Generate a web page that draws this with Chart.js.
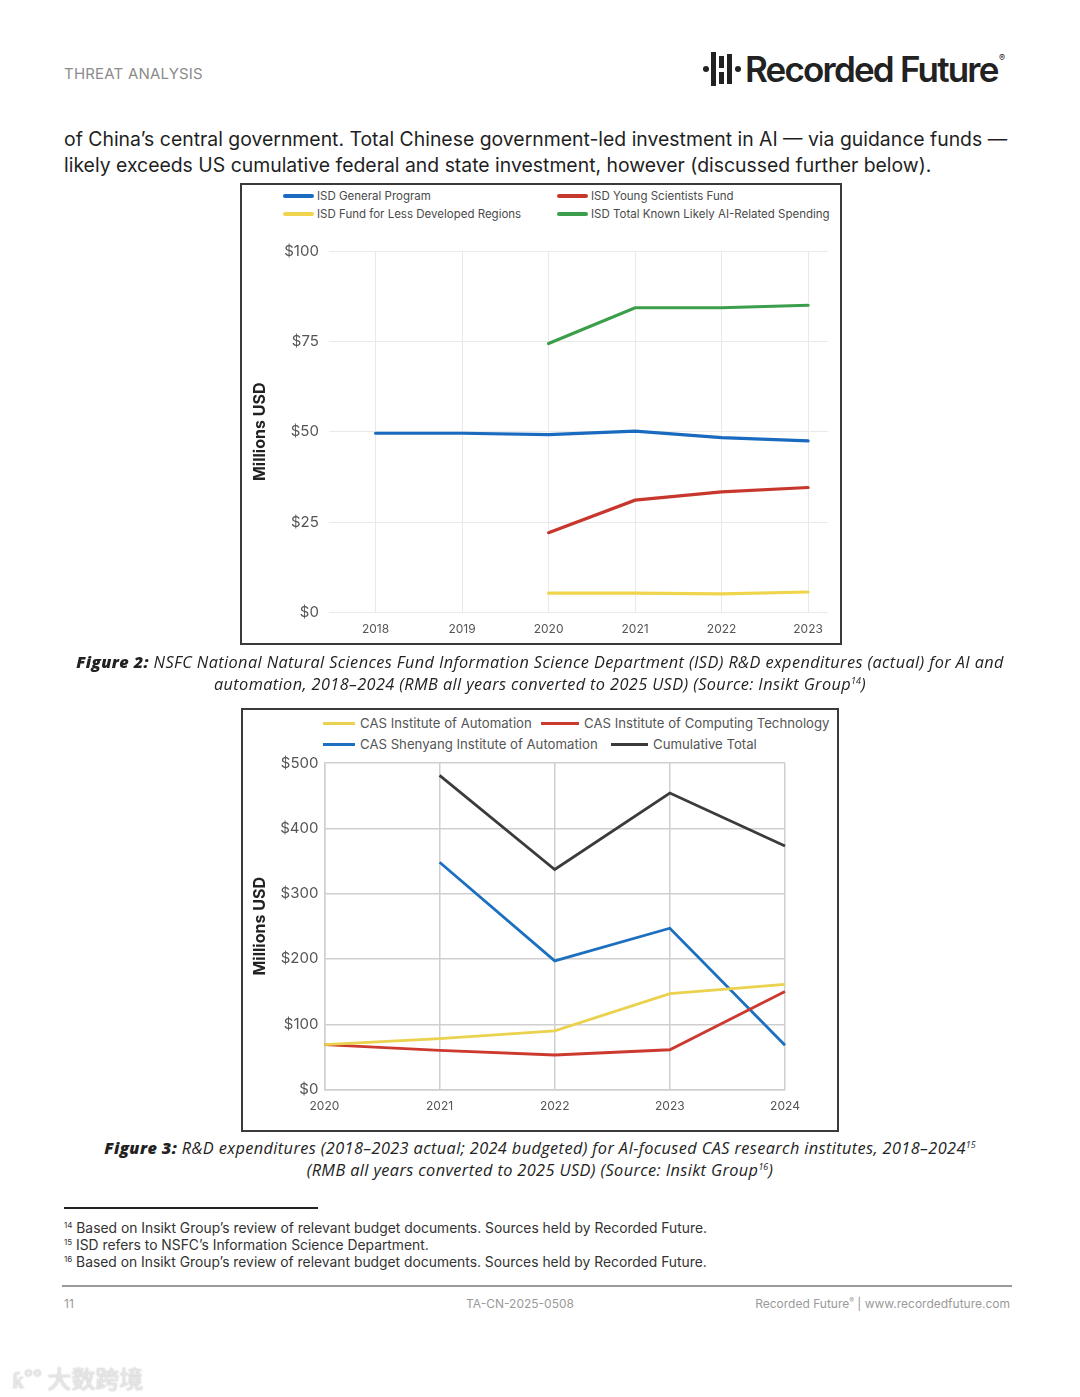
<!DOCTYPE html>
<html>
<head>
<meta charset="utf-8">
<script src="https://cdn.jsdelivr.net/npm/chart.js@4.4.1/dist/chart.umd.min.js"></script>
<style>
body { margin: 0; background: #fff; }
#page { position: relative; width: 1080px; height: 1397px; overflow: hidden; font-family: Inter, "Noto Sans", sans-serif; color: #1f1f1f; }
.abs { position: absolute; }
.box { position: absolute; border: 2px solid #3a3a3a; box-sizing: border-box; }
.leg { position: absolute; font-size: 11.5px; color: #4a4a4a; white-space: nowrap; line-height: 14px; }
.leg i { position: absolute; left: -34px; top: 5px; width: 31px; height: 4px; border-radius: 2px; }
.leg2 { position: absolute; font-size: 13.2px; color: #555; white-space: nowrap; line-height: 16px; }
.leg2 i { position: absolute; top: 7px; height: 3px; }
.cap { position: absolute; left: 40px; width: 1000px; text-align: center; font-family: "Open Sans", sans-serif; font-style: italic; font-size: 16.3px; letter-spacing: 0.4px; line-height: 22px; color: #222; white-space: nowrap; }
.cap b { font-weight: 800; }
.cap sup { font-size: 9px; line-height: 0; vertical-align: 6px; letter-spacing: 0; }
.fn { position: absolute; left: 64px; font-size: 13.85px; color: #333; line-height: 17px; }
.fn sup { font-size: 8px; line-height: 0; vertical-align: 5px; }
</style>
</head>
<body>
<div id="page">
  <div class="abs" style="left:64px;top:64px;font-size:15px;color:#8c8c8c;letter-spacing:0.2px;">THREAT ANALYSIS</div>

  <div class="abs" style="left:703px;top:66px;width:6px;height:6px;border-radius:3px;background:#222;"></div>
  <div class="abs" style="left:711px;top:52px;width:5px;height:34px;background:#222;"></div>
  <div class="abs" style="left:719px;top:56px;width:5px;height:12px;background:#222;"></div>
  <div class="abs" style="left:719px;top:72px;width:5px;height:12px;background:#222;"></div>
  <div class="abs" style="left:727px;top:54px;width:5px;height:30px;background:#222;"></div>
  <div class="abs" style="left:735px;top:66px;width:6px;height:6px;border-radius:3px;background:#222;"></div>
  <div class="abs" style="left:745px;top:48px;font-size:35px;font-weight:600;letter-spacing:-1.8px;color:#222;">Recorded Future</div>
  <div class="abs" style="left:999px;top:52px;font-size:9px;color:#222;">®</div>

  <div class="abs" style="left:64px;top:126px;font-size:19.4px;line-height:26px;color:#1f1f1f;white-space:nowrap;">
    of China’s central government. Total Chinese government-led investment in AI — via guidance funds —<br>
    likely exceeds US cumulative federal and state investment, however (discussed further below).
  </div>

  <div class="box" style="left:240px;top:183px;width:602px;height:462px;"></div>
  <div id="legend1"></div>
  <div class="abs" style="left:244px;top:232px;width:594px;height:421px;"><canvas id="isdChart"></canvas></div>

  <div class="cap" style="top:651px;"><b>Figure 2:</b> NSFC National Natural Sciences Fund Information Science Department (ISD) R&amp;D expenditures (actual) for AI and<br>automation, 2018–2024 (RMB all years converted to 2025 USD) (Source: Insikt Group<sup>14</sup>)</div>

  <div class="box" style="left:241px;top:708px;width:598px;height:424px;"></div>
  <div id="legend2"></div>
  <div class="abs" style="left:245px;top:748px;width:590px;height:378px;"><canvas id="casChart"></canvas></div>

  <div class="cap" style="top:1137px;"><b>Figure 3:</b> R&amp;D expenditures (2018–2023 actual; 2024 budgeted) for AI-focused CAS research institutes, 2018–2024<sup>15</sup><br>(RMB all years converted to 2025 USD) (Source: Insikt Group<sup>16</sup>)</div>

  <div class="abs" style="left:64px;top:1207px;width:254px;height:2px;background:#222;"></div>
  <div class="fn" style="top:1220px;"><sup>14</sup> Based on Insikt Group’s review of relevant budget documents. Sources held by Recorded Future.</div>
  <div class="fn" style="top:1237px;"><sup>15</sup> ISD refers to NSFC’s Information Science Department.</div>
  <div class="fn" style="top:1254px;"><sup>16</sup> Based on Insikt Group’s review of relevant budget documents. Sources held by Recorded Future.</div>

  <div class="abs" style="left:62px;top:1285px;width:950px;height:2px;background:#9a9a9a;"></div>
  <div class="abs" style="left:64px;top:1296px;font-size:12px;color:#9a9a9a;">11</div>
  <div class="abs" style="left:420px;top:1296px;width:200px;text-align:center;font-size:12px;color:#9a9a9a;">TA-CN-2025-0508</div>
  <div class="abs" style="right:70px;top:1296px;font-size:12px;color:#9a9a9a;">Recorded Future<sup style="font-size:7px;">®</sup> | www.recordedfuture.com</div>

  <div class="abs" style="left:12px;top:1360px;font-size:24px;color:#e6e6e6;font-family:'Noto Sans CJK SC';text-shadow:0 0 2px #bbb;white-space:nowrap;">ƙ°° 大数跨境</div>
</div>

<script>
// Figure 2 - NSFC ISD spending (millions USD)
const isdYears = [2018, 2019, 2020, 2021, 2022, 2023];
const isdGeneral = [49.6, 49.6, 49.2, 50.2, 48.4, 47.5];
const isdYoung = [null, null, 22.1, 31.1, 33.4, 34.6];
const isdLessDev = [null, null, 5.4, 5.4, 5.2, 5.7];
const isdTotal = [null, null, 74.4, 84.3, 84.3, 85.0];
const isdNames = ['ISD General Program', 'ISD Young Scientists Fund', 'ISD Fund for Less Developed Regions', 'ISD Total Known Likely AI-Related Spending'];
const isdColors = ['#1a6bbf', '#c8372d', '#f0d54c', '#3a9e4a'];

// Figure 3 - CAS institutes (millions USD)
const casYears = ['2020', '2021', '2022', '2023', '2024'];
const casAutomation = [69, 78, 90, 147, 161];
const casComputing = [69, 60, 53, 61, 150];
const casShenyang = [null, 348, 197, 247, 68];
const casTotal = [null, 481, 337, 454, 373];
const casNames = ['CAS Institute of Automation', 'CAS Institute of Computing Technology', 'CAS Shenyang Institute of Automation', 'Cumulative Total'];
const casColors = ['#ead14e', '#cc3a2f', '#1c70bf', '#3b3b3b'];

function pts(arr) {
	return isdYears.map((yr, i) => ({ x: yr, y: arr[i] }));
}

// legends (html, placed like the original)
const leg1Pos = [[317, 189], [591, 189], [317, 207], [591, 207]];
let html1 = '';
isdNames.forEach((n, i) => {
	html1 += '<div class="leg" style="left:' + leg1Pos[i][0] + 'px;top:' + leg1Pos[i][1] + 'px;"><i style="background:' + isdColors[i] + '"></i>' + n + '</div>';
});
document.getElementById('legend1').innerHTML = html1;

const leg2Pos = [[360, 715, 37], [584, 715, 43], [360, 736, 37], [653, 736, 42]];
let html2 = '';
casNames.forEach((n, i) => {
	html2 += '<div class="leg2" style="left:' + leg2Pos[i][0] + 'px;top:' + leg2Pos[i][1] + 'px;"><i style="left:-' + leg2Pos[i][2] + 'px;width:' + (leg2Pos[i][2] - 5) + 'px;background:' + casColors[i] + '"></i>' + n + '</div>';
});
document.getElementById('legend2').innerHTML = html2;

const isdSets = [isdGeneral, isdYoung, isdLessDev, isdTotal];

new Chart(document.getElementById('isdChart').getContext('2d'), {
	type: 'line',
	data: {
		datasets: isdSets.map((s, i) => ({
			label: isdNames[i],
			data: pts(s),
			borderColor: isdColors[i],
			backgroundColor: isdColors[i],
			borderWidth: 3.2,
			borderCapStyle: 'round',
			tension: 0
		}))
	},
	options: {
		animation: false,
		responsive: true,
		maintainAspectRatio: false,
		layout: { padding: { left: 3, right: 10, top: 10, bottom: 6 } },
		elements: { point: { radius: 0 } },
		plugins: { legend: { display: false }, tooltip: { enabled: false } },
		scales: {
			x: {
				type: 'linear',
				min: 2017.46,
				max: 2023.23,
				border: { display: false },
				grid: { color: '#e9e9e9', drawTicks: false },
				ticks: { stepSize: 1, includeBounds: false, padding: 10, color: '#555', font: { family: 'Inter', size: 12 }, callback: v => String(v) }
			},
			y: {
				min: 0,
				max: 100,
				border: { display: false },
				grid: { color: '#e9e9e9', drawTicks: false },
				ticks: { stepSize: 25, padding: 10, color: '#555', font: { family: 'Inter', size: 15 }, callback: v => '$' + v },
				title: { display: true, text: 'Millions USD', color: '#222', font: { family: 'Inter', size: 16, weight: 'bold' } }
			}
		}
	}
});

const casSets = [casAutomation, casComputing, casShenyang, casTotal];

new Chart(document.getElementById('casChart').getContext('2d'), {
	type: 'line',
	data: {
		labels: casYears,
		datasets: casSets.map((s, i) => ({
			label: casNames[i],
			data: s,
			borderColor: casColors[i],
			backgroundColor: casColors[i],
			borderWidth: 2.8,
			tension: 0
		}))
	},
	options: {
		animation: false,
		responsive: true,
		maintainAspectRatio: false,
		layout: { padding: { left: 2, right: 50, top: 4, bottom: 2 } },
		elements: { point: { radius: 0 } },
		plugins: { legend: { display: false }, tooltip: { enabled: false } },
		scales: {
			x: {
				offset: false,
				border: { color: '#cfcfcf', width: 1.5 },
				grid: { color: '#cfcfcf', lineWidth: 1.5, drawTicks: false },
				ticks: { padding: 10, color: '#555', font: { family: 'Inter', size: 12 }, maxRotation: 0 }
			},
			y: {
				min: 0,
				max: 500,
				border: { color: '#cfcfcf', width: 1.5 },
				grid: { color: '#cfcfcf', lineWidth: 1.5, drawTicks: false },
				ticks: { stepSize: 100, padding: 6, color: '#555', font: { family: 'Inter', size: 15 }, callback: v => '$' + v },
				title: { display: true, text: 'Millions USD', color: '#222', font: { family: 'Inter', size: 16, weight: 'bold' } }
			}
		}
	}
});
</script>
</body>
</html>
